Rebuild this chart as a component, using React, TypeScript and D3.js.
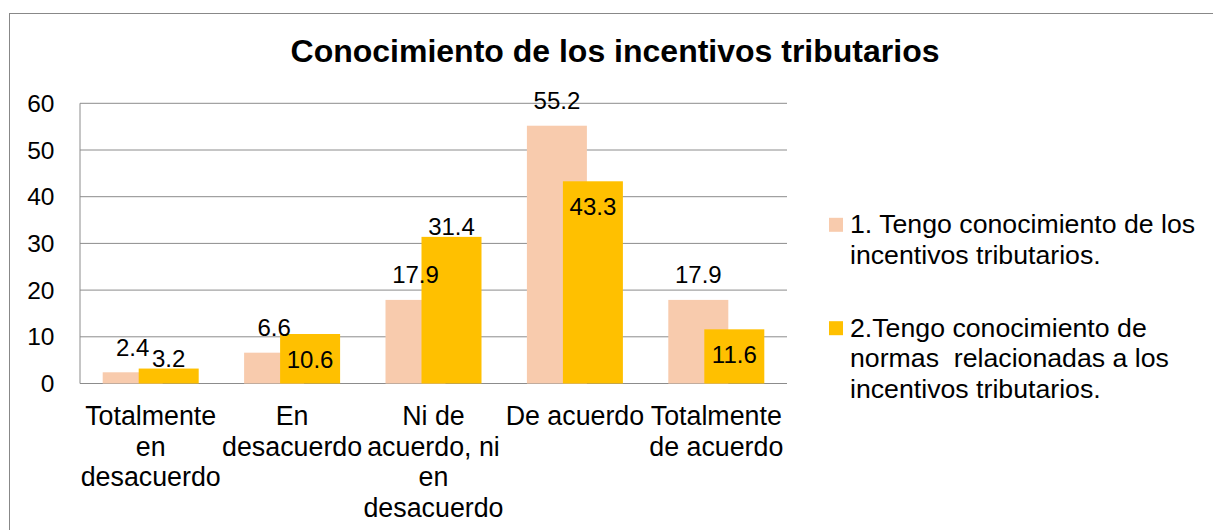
import React from "react";
import * as d3 from "d3";

const title = "Conocimiento de los incentivos tributarios";
const categories = [
  "Totalmente\nen\ndesacuerdo",
  "En\ndesacuerdo",
  "Ni de\nacuerdo, ni\nen\ndesacuerdo",
  "De acuerdo",
  "Totalmente\nde acuerdo",
];
const series1Name = "1. Tengo conocimiento de los\nincentivos tributarios.";
const series2Name = "2.Tengo conocimiento de\nnormas  relacionadas a los\nincentivos tributarios.";
const series1 = [2.4, 6.6, 17.9, 55.2, 17.9];
const series2 = [3.2, 10.6, 31.4, 43.3, 11.6];
const series2LabelInside = [false, true, false, true, true];
const yTicks = [0, 10, 20, 30, 40, 50, 60];

const COLOR1 = "#F8CBAD";
const COLOR2 = "#FFC000";
const FONT = "'Liberation Sans', Arial, sans-serif";

export default function App() {
  const W = 1213, H = 530;
  const left = 80, right = 787, top = 103.3, bottom = 383.5;
  const x = d3.scaleBand<number>().domain(d3.range(categories.length)).range([left, right]).padding(0);
  const y = d3.scaleLinear().domain([0, 60]).range([bottom, top]);
  const barW = 60;
  const step = 36;
  const groupW = step + barW;

  return (
    <svg width={W} height={H} style={{ position: "absolute", left: 0, top: 0, background: "#fff" }} fontFamily={FONT}>
      <rect x={0} y={0} width={W} height={H} fill="#fff" />
      <rect x={9.5} y={13.5} width={W + 20} height={H + 20} fill="none" stroke="#888" strokeWidth={1} />
      <text x={615} y={62} textAnchor="middle" fontSize={32} fontWeight="bold" fill="#000">{title}</text>

      {yTicks.map((t) => (
        <g key={t}>
          <line x1={left} x2={right} y1={y(t)} y2={y(t)} stroke="#8c8c8c" strokeWidth={1} />
          <text x={54.5} y={y(t) + 8.5} textAnchor="end" fontSize={24.5} fill="#000">{t}</text>
        </g>
      ))}
      <line x1={left} x2={left} y1={top} y2={bottom} stroke="#8c8c8c" strokeWidth={1} />

      {categories.map((c, i) => {
        const cx = (x(i) as number) + x.bandwidth() / 2;
        const g0 = cx - groupW / 2;
        const y1 = y(series1[i]);
        const y2 = y(series2[i]);
        return (
          <g key={i}>
            <rect x={g0} y={y1} width={barW} height={bottom - y1} fill={COLOR1} />
            <rect x={g0 + step} y={y2} width={barW} height={bottom - y2} fill={COLOR2} />
            <text x={g0 + barW / 2} y={y1 - 16.5} textAnchor="middle" fontSize={24} fill="#000">{series1[i].toFixed(1)}</text>
            <text x={g0 + step + barW / 2} y={series2LabelInside[i] ? y2 + 34 : y2 - 1.5} textAnchor="middle" fontSize={24} fill="#000">{series2[i].toFixed(1)}</text>
            {c.split("\n").map((line, k) => (
              <text key={k} x={cx} y={425 + k * 30.5} textAnchor="middle" fontSize={26.8} fill="#000">{line}</text>
            ))}
          </g>
        );
      })}

      {[series1Name, series2Name].map((name, s) => {
        const baseY = s === 0 ? 233.3 : 336.7;
        return (
          <g key={s}>
            <rect x={829} y={baseY - 15.5} width={14} height={14} fill={s === 0 ? COLOR1 : COLOR2} />
            {name.split("\n").map((line, k) => (
              <text key={k} x={850} y={baseY + k * 30.7} fontSize={26.7} fill="#000" style={{ whiteSpace: "pre" }}>{line}</text>
            ))}
          </g>
        );
      })}
    </svg>
  );
}
